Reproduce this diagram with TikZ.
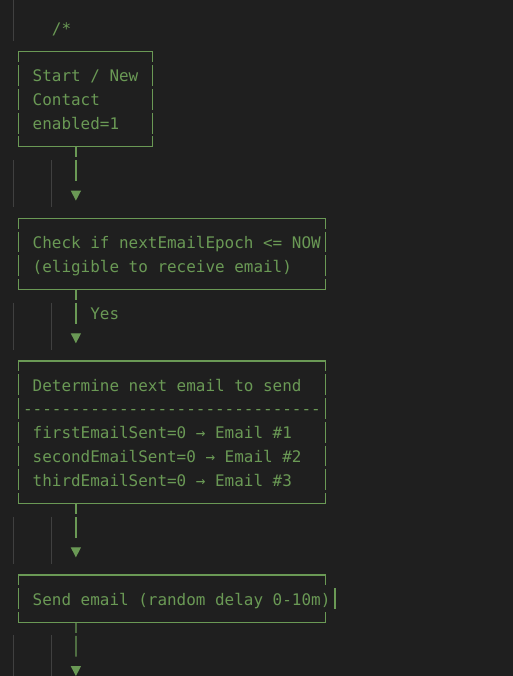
\documentclass[tikz,border=0pt]{standalone}
\usepackage{fontspec}
\newfontfamily\codefont{DejaVu Sans Mono}
\usetikzlibrary{arrows.meta}
\definecolor{cbg}{HTML}{1F1F1F}
\definecolor{cgreen}{HTML}{6A9955}
\definecolor{cguide}{HTML}{404040}
\begin{document}
\begin{tikzpicture}[x=1pt,y=-1pt,
  boxnode/.style={draw=none, inner sep=0pt, outer sep=0pt, rectangle},
  hline/.style={draw=cgreen, line width=1.2pt},
  vline/.style={draw=cgreen, line width=1.3pt, dash pattern=on 20.8pt off 2.98pt, dash phase=10.4pt},
  vsolid/.style={draw=cgreen, line width=1.3pt},
  conn/.style={draw=cgreen, line width=1.3pt, dash pattern=on 10.4pt off 2.98pt on 20.8pt off 200pt, -{Triangle[length=10pt,width=10pt]}},
  txt/.style={font=\codefont\fontsize{15.95}{20}\selectfont, text=cgreen, inner sep=0pt, outer sep=0pt, anchor=base west},
  guide/.style={draw=cguide, line width=1pt}
]
\fill[cbg] (0,0) rectangle (513,676);
\useasboundingbox (0,0) rectangle (513,676);

% indent guides
\draw[guide] (13.3,0) -- (13.3,40.9);
\draw[guide] (13.3,159.8) -- (13.3,207.4);
\draw[guide] (51.7,159.8) -- (51.7,207.4);
\draw[guide] (13.3,302.5) -- (13.3,350.0);
\draw[guide] (51.7,302.5) -- (51.7,350.0);
\draw[guide] (13.3,516.5) -- (13.3,564.0);
\draw[guide] (51.7,516.5) -- (51.7,564.0);
\draw[guide] (13.3,635.4) -- (13.3,680);
\draw[guide] (51.7,635.4) -- (51.7,680);

% comment opener
\node[txt] (open) at (51.9,34.4) {/*};

% boxes
\node[boxnode, minimum width=134.4pt, minimum height=95.12pt] (b1) at (85.5,99.34) {};
\node[boxnode, minimum width=307.2pt, minimum height=71.34pt] (b2) at (171.9,253.91) {};
\node[boxnode, minimum width=307.2pt, minimum height=142.68pt] (b3) at (171.9,432.26) {};
\node[boxnode, minimum width=307.2pt, minimum height=47.56pt] (b4) at (171.9,598.72) {};

\foreach \b in {b1,b2,b3}{
  \draw[hline] (\b.north west) -- (\b.north east);
  \draw[hline] (\b.south west) -- (\b.south east);
  \draw[vline] (\b.north west) -- (\b.south west);
  \draw[vline] (\b.north east) -- (\b.south east);
}
\draw[hline] (b4.north west) -- (b4.north east);
\draw[hline] (b4.south west) -- (b4.south east);
\draw[vline] (b4.north west) -- (b4.south west);
\draw[vsolid] (b4.north east) -- ++(0,10.4);
\draw[vsolid] (b4.south east) -- ++(0,-10.4);
\draw[vsolid] (335.1,588.32) -- (335.1,609.12);

% texts
\node[txt] (b1t1) at (32.7,81.96) {Start / New};
\node[txt] (b1t2) at (32.7,105.74) {Contact};
\node[txt] (b1t3) at (32.7,129.52) {enabled=1};

\node[txt] (b2t1) at (32.7,248.42) {Check if nextEmailEpoch <= NOW};
\node[txt] (b2t2) at (32.7,272.2) {(eligible to receive email)};

\node[txt] (yes) at (90.3,319.76) {Yes};

\node[txt] (b3t1) at (32.7,391.1) {Determine next email to send};
\node[txt] (b3sep) at (23.1,414.88) {-------------------------------};
\node[txt] (b3t2) at (32.7,438.66) {firstEmailSent=0 → Email \#1};
\node[txt] (b3t3) at (32.7,462.44) {secondEmailSent=0 → Email \#2};
\node[txt] (b3t4) at (32.7,486.22) {thirdEmailSent=0 → Email \#3};

\node[txt] (b4t1) at (32.7,605.12) {Send email (random delay 0-10m)};

% connectors
\coordinate (end4) at (75.9,676.06);
\draw[conn] ([xshift=57.6pt]b1.south west) -- ([xshift=57.6pt,yshift=17.6pt]b2.north west);
\draw[conn] ([xshift=57.6pt]b2.south west) -- ([xshift=57.6pt,yshift=17.6pt]b3.north west);
\draw[conn] ([xshift=57.6pt]b3.south west) -- ([xshift=57.6pt,yshift=17.6pt]b4.north west);
\draw[conn] ([xshift=57.6pt]b4.south west) -- (end4);
\end{tikzpicture}
\end{document}
